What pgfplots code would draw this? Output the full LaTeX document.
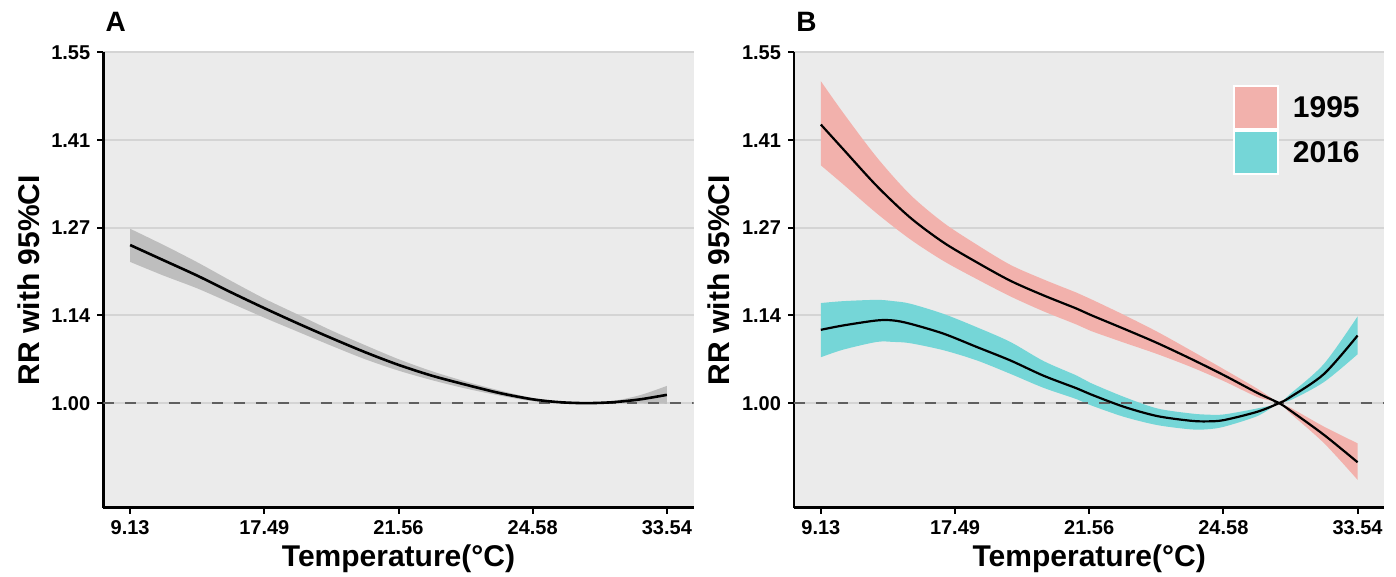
\documentclass[border=0pt]{standalone}
\usepackage{fontspec}
\setmainfont{Liberation Sans}
\usepackage{pgfplots}
\usepackage{pgfplotstable}
\pgfplotsset{compat=1.18}
\usepgfplotslibrary{fillbetween}

\definecolor{panelbg}{RGB}{235,235,235}
\definecolor{gridc}{RGB}{212,212,212}
\definecolor{bandA}{RGB}{190,190,190}
\definecolor{band95}{RGB}{242,177,172}
\definecolor{band16}{RGB}{117,214,215}
\definecolor{refline}{RGB}{95,95,95}

% x is the position of the temperature percentile tick (0..4)
\pgfplotstableread{
u     fit     lo      hi
0.00  1.2480  1.2215  1.2735
0.25  1.2240  1.2000  1.2480
0.50  1.2000  1.1800  1.2210
0.75  1.1740  1.1570  1.1920
1.00  1.1490  1.1340  1.1640
1.25  1.1250  1.1120  1.1390
1.50  1.1020  1.0900  1.1140
1.75  1.0800  1.0690  1.0910
2.00  1.0600  1.0510  1.0690
2.25  1.0430  1.0360  1.0500
2.50  1.0290  1.0230  1.0340
2.75  1.0160  1.0120  1.0200
3.00  1.0060  1.0030  1.0080
3.20  1.0015  1.0005  1.0025
3.40  1.0000  1.0000  1.0000
3.60  1.0015  0.9998  1.0035
3.80  1.0059  0.9995  1.0125
4.00  1.0130  0.9990  1.0270
}\overall

\pgfplotstableread{
u      fit     lo      hi
0.000  1.4370  1.3730  1.5050
0.168  1.3980  1.3430  1.4550
0.417  1.3406  1.2976  1.3856
0.666  1.2910  1.2570  1.3270
0.914  1.2520  1.2230  1.2830
1.163  1.2208  1.1945  1.2485
1.412  1.1920  1.1675  1.2170
1.660  1.1690  1.1440  1.1940
1.909  1.1480  1.1230  1.1730
2.009  1.1385  1.1135  1.1635
2.258  1.1167  1.0950  1.1385
2.507  1.0943  1.0770  1.1120
2.755  1.0698  1.0570  1.0830
3.004  1.0438  1.0345  1.0531
3.253  1.0161  1.0096  1.0226
3.415  1.0000  1.0000  1.0000
3.502  0.9880  0.9835  0.9925
3.751  0.9500  0.9370  0.9630
4.000  0.9073  0.8797  0.9370
}\yrA

\pgfplotstableread{
u      fit     lo      hi
0.000  1.1150  1.0720  1.1570
0.168  1.1219  1.0840  1.1600
0.417  1.1297  1.0960  1.1620
0.540  1.1297  1.0960  1.1600
0.666  1.1245  1.0940  1.1560
0.914  1.1090  1.0830  1.1400
1.163  1.0880  1.0670  1.1190
1.412  1.0670  1.0460  1.0960
1.660  1.0430  1.0240  1.0660
1.909  1.0230  1.0060  1.0430
2.009  1.0140  0.9969  1.0318
2.258  0.9943  0.9786  1.0099
2.507  0.9797  0.9656  0.9917
2.755  0.9724  0.9589  0.9839
2.880  0.9714  0.9590  0.9820
3.004  0.9734  0.9630  0.9823
3.253  0.9865  0.9797  0.9917
3.415  1.0000  1.0000  1.0000
3.502  1.0099  1.0047  1.0151
3.751  1.0460  1.0333  1.0620
4.000  1.1060  1.0766  1.1360
}\yrB

\pgfplotsset{
  rrpanel/.style={
    scale only axis, width=295.2pt, height=227.6pt,
    xmin=-0.2, xmax=4.2, ymin=0.836, ymax=1.55,
    axis lines*=left,
    axis line style={line width=1.2pt, black},
    axis background/.style={fill=panelbg},
    xtick={0,1,2,3,4},
    xticklabels={9.13,17.49,21.56,24.58,33.54},
    ytick={1,1.1375,1.275,1.4125,1.55},
    yticklabels={1.00,1.14,1.27,1.41,1.55},
    tick align=outside, major tick length=3pt,
    tick style={line width=1pt, black},
    ymajorgrids, grid style={line width=1pt, gridc},
    /pgf/number format/assume math mode=true,
    ticklabel style={font=\fontsize{10}{12}\selectfont\bfseries},
    xlabel={Temperature(°C)},
    ylabel={RR with 95\%CI},
    label style={font=\fontsize{15}{18}\selectfont\bfseries},
    xlabel style={at={(axis description cs:0.5,-0.1296)}, anchor=base},
    ylabel style={at={(axis description cs:-0.127,0.5)}, anchor=center},
  },
  band/.style={draw=none, smooth, forget plot},
  fitline/.style={black, line width=1.1pt, smooth, forget plot},
  zeroline/.style={refline, line width=1.1pt, dash pattern=on 5.4pt off 5.5pt, forget plot},
}

\begin{document}
\begin{tikzpicture}
% panel A
\begin{axis}[rrpanel, name=A]
\addplot[band, name path=ahi] table[x=u, y=hi] {\overall};
\addplot[band, name path=alo] table[x=u, y=lo] {\overall};
\addplot[fill=bandA, draw=none, forget plot] fill between[of=ahi and alo];
\addplot[zeroline] coordinates {(-0.2,1) (4.2,1)};
\addplot[fitline, line width=1.3pt] table[x=u, y=fit] {\overall};
\end{axis}

% panel B
\begin{axis}[rrpanel, name=B, at={(345.35pt,0pt)},
  legend style={at={(rel axis cs:0.7427,0.9286)}, anchor=north west,
    draw=none, fill=none, inner sep=0pt, row sep=0pt,
    nodes={inner sep=0pt}, column sep=7pt,
    font=\fontsize{15}{18}\selectfont\bfseries},
  legend cell align=left]
\addplot[band, name path=phi] table[x=u, y=hi] {\yrA};
\addplot[band, name path=plo] table[x=u, y=lo] {\yrA};
\addplot[fill=band95, draw=none, forget plot] fill between[of=phi and plo];
\addplot[band, name path=thi] table[x=u, y=hi] {\yrB};
\addplot[band, name path=tlo] table[x=u, y=lo] {\yrB};
\addplot[fill=band16, draw=none, forget plot] fill between[of=thi and tlo];
\addplot[zeroline] coordinates {(-0.2,1) (4.2,1)};
\addplot[fitline] table[x=u, y=fit] {\yrA};
\addplot[fitline] table[x=u, y=fit] {\yrB};
\addlegendimage{legend image code/.code={
  \filldraw[fill=band95, draw=white, line width=1pt] (0pt,-10.35pt) rectangle (22pt,11.15pt);}}
\addlegendentry{1995}
\addlegendimage{legend image code/.code={
  \filldraw[fill=band16, draw=white, line width=1pt] (0pt,-10.35pt) rectangle (22pt,11.15pt);}}
\addlegendentry{2016}
\end{axis}

\node[anchor=base west, inner sep=0pt, font=\fontsize{14}{16}\selectfont\bfseries]
  at ([xshift=1pt, yshift=10.4pt]A.north west) {A};
\node[anchor=base west, inner sep=0pt, font=\fontsize{14}{16}\selectfont\bfseries]
  at ([xshift=1pt, yshift=10.4pt]B.north west) {B};

\pgfresetboundingbox
\path (-51.65pt,-34.65pt) rectangle (646.35pt,253.85pt);
\end{tikzpicture}
\end{document}
